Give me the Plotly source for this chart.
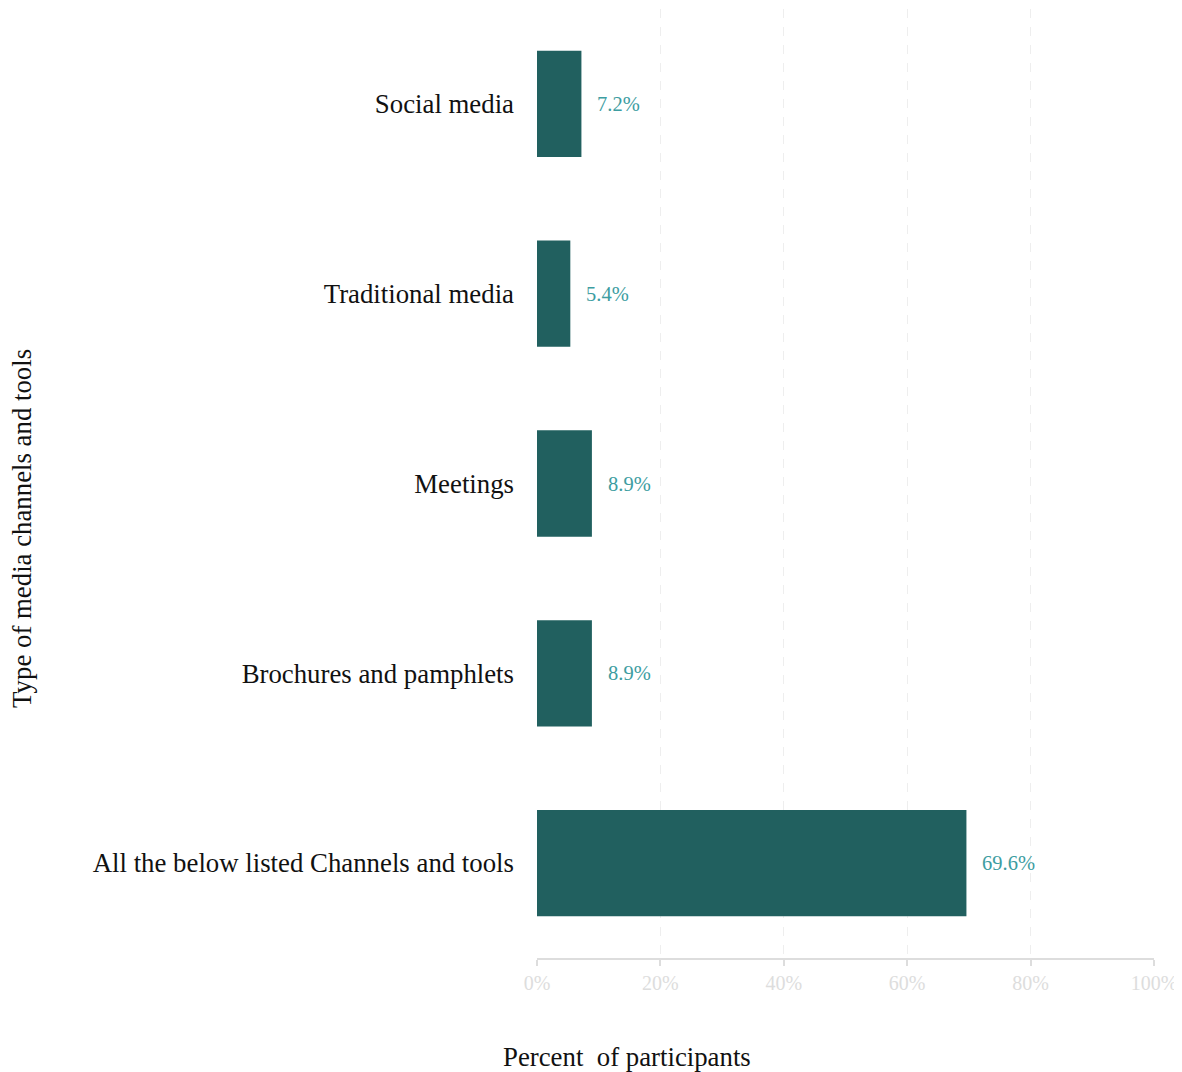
import plotly.graph_objects as go

categories = ["Social media", "Traditional media", "Meetings",
              "Brochures and pamphlets", "All the below listed Channels and tools"]
values = [7.2, 5.4, 8.9, 8.9, 69.6]
tick_vals = [0, 20, 40, 60, 80, 100]
tick_text = ["0%", "20%", "40%", "60%", "80%", "100%"]

FONT = "Liberation Serif, Times New Roman, serif"
BIG = 26.8

fig = go.Figure()
fig.add_trace(go.Bar(
    x=values, y=categories, orientation="h",
    marker=dict(color="#21605f", line=dict(width=0)),
    width=0.56, hoverinfo="skip",
))
for c, v in zip(categories, values):
    fig.add_annotation(x=v, y=c, text=f"{v:.1f}%", showarrow=False,
                       xanchor="left", xshift=14,
                       font=dict(family=FONT, size=20.5, color="#3d9da1"))

fig.add_annotation(text="Percent  of participants", xref="paper", yref="paper",
                   x=0.146, y=-0.104, xanchor="center", yanchor="middle",
                   showarrow=False, font=dict(family=FONT, size=BIG, color="#111"))
fig.add_annotation(text="Type of media channels and tools", xref="paper", yref="paper",
                   x=-0.835, y=0.453, xanchor="center", yanchor="middle", textangle=-90,
                   showarrow=False, font=dict(family=FONT, size=BIG, color="#111"))

fig.update_layout(
    width=1174, height=1064,
    margin=dict(l=529, r=28, t=1, b=114),
    plot_bgcolor="white", paper_bgcolor="white",
    showlegend=False,
    font=dict(family=FONT),
    bargap=0.44,
)
fig.update_xaxes(
    range=[0, 100], tickvals=tick_vals, ticktext=tick_text,
    tickfont=dict(family=FONT, size=20, color="#dddddd"),
    showgrid=True, gridcolor="#eeeeee", griddash="dash", gridwidth=1,
    showline=True, linecolor="#dddddd", linewidth=2,
    ticks="outside", ticklen=6, tickcolor="#dddddd", tickwidth=2,
    zeroline=False,
)
fig.update_yaxes(
    categoryorder="array", categoryarray=categories, autorange="reversed",
    tickfont=dict(family=FONT, size=BIG, color="#111111"),
    showgrid=False, showline=False, zeroline=False,
    ticklabelstandoff=22,
)
fig.write_html("out.html")
